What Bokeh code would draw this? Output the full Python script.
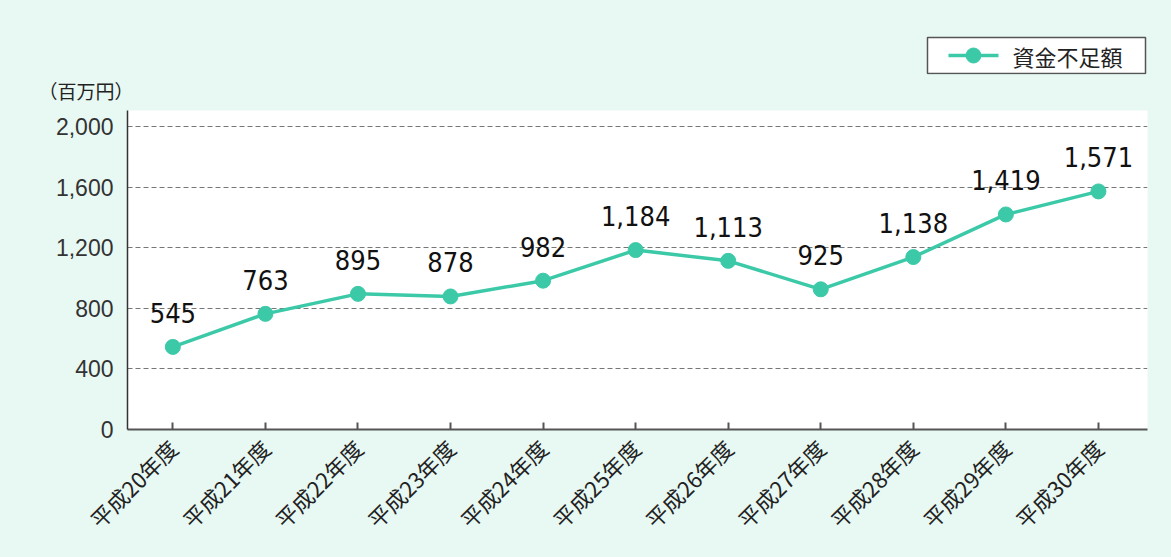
import math
from bokeh.plotting import figure
from bokeh.layouts import column
from bokeh.models import ColumnDataSource, FixedTicker, NumeralTickFormatter, Title
from bokeh.core.properties import value
from bokeh.embed import file_html
from bokeh.resources import INLINE

categories = ["平成20年度", "平成21年度", "平成22年度", "平成23年度", "平成24年度", "平成25年度",
              "平成26年度", "平成27年度", "平成28年度", "平成29年度", "平成30年度"]
values = [545, 763, 895, 878, 982, 1184, 1113, 925, 1138, 1419, 1571]
y_ticks = [0, 400, 800, 1200, 1600, 2000]
series_name = "資金不足額"
unit_label = "（百万円）"

xs = list(range(len(categories)))
src = ColumnDataSource(dict(x=xs, y=values, lbl=[f"{v:,}" for v in values]))

BG = "#e8f8f3"
TEAL = "#3cc9a8"
JP = "Noto Sans CJK JP"
W, H_TOP, H_MAIN = 1171, 110, 447
H_LEG = 74          # header frame height (legend area)
BL, BR = 127, 24    # frame borders (left / right), shared by both figures

# ---- header strip: legend (data units == pixels inside the frame) + unit label below ----
h = figure(width=W, height=H_TOP, output_backend="svg", toolbar_location=None,
           x_range=(BL, W - BR), y_range=(0, H_LEG), x_axis_type=None, y_axis_type=None,
           background_fill_color=BG, border_fill_color=BG,
           min_border_left=BL, min_border_right=BR, min_border_top=0,
           min_border_bottom=H_TOP - H_LEG)
h.outline_line_color = None
h.grid.visible = False
h.add_layout(Title(text=unit_label, align="left", offset=-89, text_font=JP,
                   text_font_size="19px", text_font_style="normal", text_color="#222222",
                   standoff=0), "below")
h.quad(left=[927], right=[1145], bottom=[1], top=[37], fill_color="white",
       line_color="#555555", line_width=1.5)
h.segment(x0=[948], y0=[19], x1=[998], y1=[19], line_color=TEAL, line_width=3.5)
h.scatter(x=[973], y=[19], size=15, fill_color=TEAL, line_color=TEAL)
h.text(x=[1012], y=[19], text=[series_name], text_align="left", text_baseline="middle",
       text_font=value(JP), text_font_size="22px", text_color="#222222")

# ---- main chart ----
p = figure(width=W, height=H_MAIN, output_backend="svg", toolbar_location=None,
           x_range=(-0.49, len(categories) - 1 + 0.53), y_range=(0, 2105),
           background_fill_color="white", border_fill_color=BG,
           min_border_left=BL, min_border_right=BR, min_border_top=0, min_border_bottom=128)
p.outline_line_color = None

p.xaxis.ticker = FixedTicker(ticks=xs)
p.xaxis.major_label_overrides = {i: c for i, c in enumerate(categories)}
p.xaxis.major_label_orientation = math.pi / 4
p.xaxis.major_label_text_font = JP
p.xaxis.major_label_text_font_size = "22px"
p.xaxis.major_label_text_color = "#222222"
p.xaxis.major_label_standoff = 14
p.xaxis.major_tick_in = 7
p.xaxis.major_tick_out = 0
p.xaxis.minor_tick_line_color = None
p.xaxis.axis_line_color = "#555555"
p.xaxis.axis_line_width = 2
p.xaxis.major_tick_line_color = "#555555"
p.xaxis.major_tick_line_width = 2

p.yaxis.ticker = FixedTicker(ticks=y_ticks)
p.yaxis.formatter = NumeralTickFormatter(format="0,0")
p.yaxis.major_label_text_font = "Liberation Sans"
p.yaxis.major_label_text_font_size = "23px"
p.yaxis.major_label_text_color = "#333333"
p.yaxis.major_tick_in = 0
p.yaxis.major_tick_out = 0
p.yaxis.minor_tick_line_color = None
p.yaxis.axis_line_color = "#333333"
p.yaxis.axis_line_width = 1.5
p.yaxis.major_label_standoff = 14

p.xgrid.grid_line_color = None
p.ygrid.grid_line_color = "#777777"
p.ygrid.grid_line_dash = "5 3"
p.ygrid.grid_line_width = 1
p.ygrid.ticker = FixedTicker(ticks=y_ticks[1:])

p.line("x", "y", source=src, line_color=TEAL, line_width=3.5)
p.scatter("x", "y", source=src, size=15, fill_color=TEAL, line_color=TEAL)

p.text("x", "y", text="lbl", source=src, text_align="center", text_baseline="bottom",
       y_offset=-24, text_font=value("DejaVu Sans Condensed, Roboto"), text_font_size="27px",
       text_color="#111111")

layout = column(h, p, spacing=0, styles={"background-color": BG})
open("out.html", "w").write(file_html(layout, INLINE))
